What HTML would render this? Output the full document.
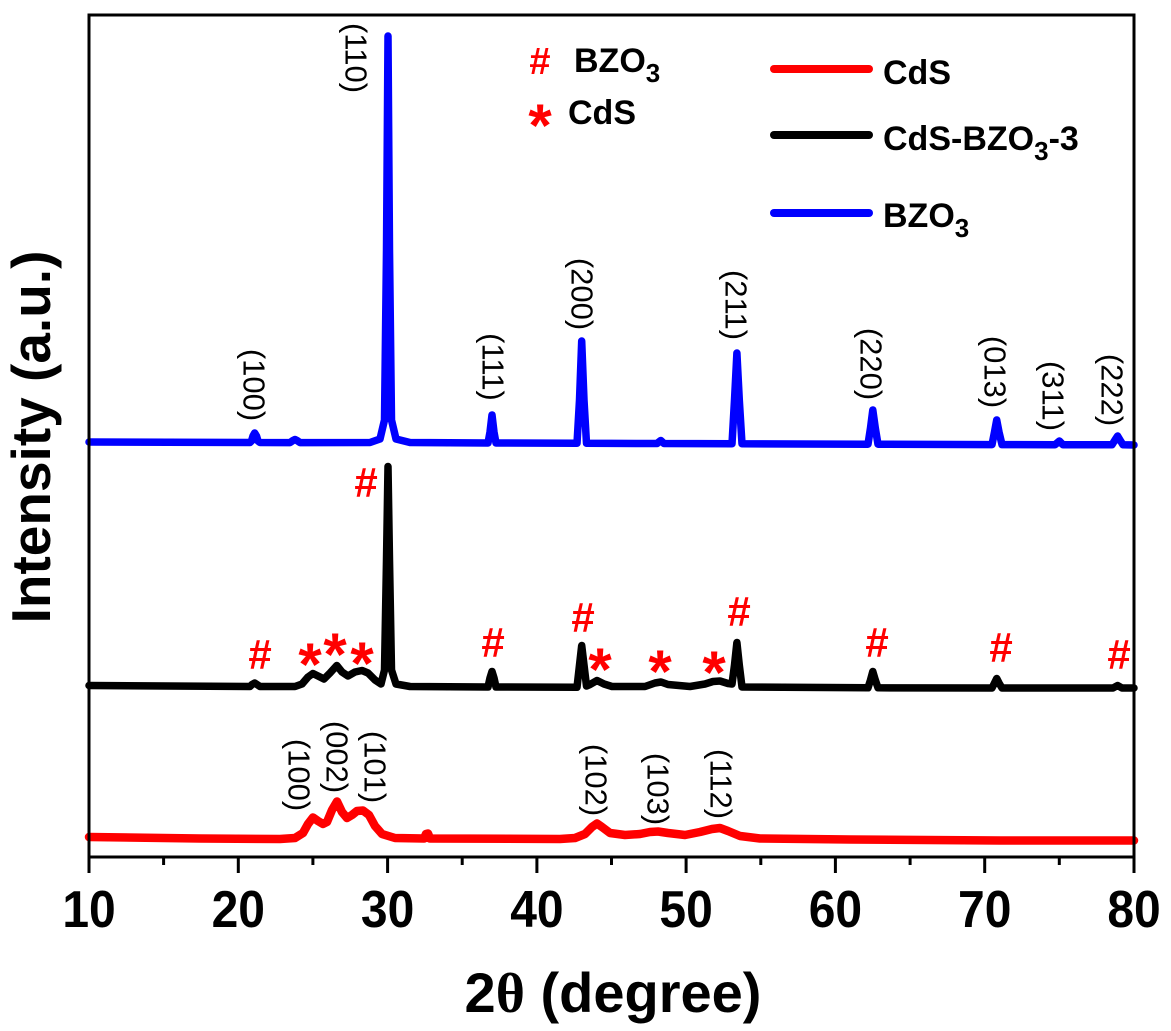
<!DOCTYPE html>
<html><head><meta charset="utf-8">
<style>html,body{margin:0;padding:0;background:#fff;}svg{display:block;}</style>
</head><body>
<svg width="1171" height="1031" viewBox="0 0 1171 1031" xmlns="http://www.w3.org/2000/svg" font-family="'Liberation Sans', Arial, sans-serif">
<rect width="1171" height="1031" fill="#fff"/>

<!-- series -->
<g fill="none" stroke-linejoin="round" stroke-linecap="round">
<path stroke="#ff0000" stroke-width="8.5" d="M89,837 L200,838.5 L280,839 L295,838 L303,833 L308,824 L313,817.5 L318,821 L323,824 L327,822 L332,810 L337,801.5 L342,812 L347,818 L352,815 L357,811 L363,810.5 L369,815 L375,826 L382,834 L395,838 L424,838.5 L426,834 L428,833.5 L430,838.5 L560,839 L575,838 L585,834 L592,827 L597,823.5 L602,827 L610,833 L625,835 L640,834 L650,832 L658,831.5 L668,833 L685,835 L700,832 L712,829 L720,828 L728,831 L740,836 L760,838.5 L850,839.5 L1000,840.5 L1134,840.5"/>
<path stroke="#000000" stroke-width="7.5" d="M89,685.5 L250,686.5 L252,684.5 L254.7,683 L257,684.5 L260,686.5 L295,686.5 L302,684 L308,677 L312.9,673.5 L318,676 L324,679 L330,673 L336.8,665.5 L342,672 L348,676 L355,672 L362,670.5 L368,673 L375,680 L381,684 L384.5,670 L386.5,560 L388,466.5 L389.5,560 L391.5,670 L396,684 L410,686.5 L488,687 L490,678 L492,671.5 L494,678 L496,687 L577,687.3 L579.5,665 L581.7,645.5 L584,665 L586.5,686 L590,684.5 L597,680.5 L604,684 L612,686.5 L645,686.5 L655,683 L661,682 L668,684.5 L690,686.5 L705,684 L713,681.5 L720,681 L728,683.5 L732,684 L734.5,665 L736.9,642.5 L739.3,665 L742,687 L868,687.8 L870.5,680 L872.8,671.5 L875.3,680 L878,687.8 L992,688 L994.5,683 L996.7,678.5 L999,683 L1002,688 L1113,688 L1117.6,685.5 L1122,688 L1134,688"/>
<path stroke="#0000ff" stroke-width="7.5" d="M89,442 L250,442.5 L251.5,441 L253,436 L254.7,433 L256.5,436 L258,441 L260,442.5 L290,442.6 L293,440.5 L295,439.5 L297,440.5 L300,442.6 L370,442.5 L380,439 L384.5,420 L386.5,250 L388,36 L389.5,250 L391.5,420 L396,439 L410,442.5 L488,443 L490,432 L492,415 L494,432 L496,443 L577,443.3 L579.5,400 L581.7,341 L584,400 L586.5,443.3 L657,443.5 L660.8,440.5 L664,443.5 L732,443.8 L734.5,400 L736.9,353 L739.3,400 L742,443.8 L868,444.2 L870.5,428 L872.8,410 L875.3,428 L878,444.2 L992,444.6 L994.5,432 L996.7,420 L999,432 L1002,444.6 L1055,444.7 L1059.4,441 L1063,444.7 L1112,444.8 L1115,440 L1117.6,436 L1120,440 L1123,444.8 L1134,445"/>
</g>

<!-- frame -->
<rect x="89" y="15" width="1045" height="842" fill="none" stroke="#000" stroke-width="3"/>
<!-- ticks -->
<g stroke="#000" stroke-width="3">
<line x1="89" y1="857" x2="89" y2="873"/>
<line x1="238.3" y1="857" x2="238.3" y2="873"/>
<line x1="387.6" y1="857" x2="387.6" y2="873"/>
<line x1="536.9" y1="857" x2="536.9" y2="873"/>
<line x1="686.1" y1="857" x2="686.1" y2="873"/>
<line x1="835.4" y1="857" x2="835.4" y2="873"/>
<line x1="984.7" y1="857" x2="984.7" y2="873"/>
<line x1="1134" y1="857" x2="1134" y2="873"/>
<line x1="163.6" y1="857" x2="163.6" y2="865"/>
<line x1="312.9" y1="857" x2="312.9" y2="865"/>
<line x1="462.2" y1="857" x2="462.2" y2="865"/>
<line x1="611.5" y1="857" x2="611.5" y2="865"/>
<line x1="760.8" y1="857" x2="760.8" y2="865"/>
<line x1="910.1" y1="857" x2="910.1" y2="865"/>
<line x1="1059.3" y1="857" x2="1059.3" y2="865"/>
</g>
<!-- tick labels -->
<g font-size="48" font-weight="bold" text-anchor="middle" fill="#000">
<text transform="translate(89,927) scale(1,1.08)">10</text>
<text transform="translate(238.3,927) scale(1,1.08)">20</text>
<text transform="translate(387.6,927) scale(1,1.08)">30</text>
<text transform="translate(536.9,927) scale(1,1.08)">40</text>
<text transform="translate(686.1,927) scale(1,1.08)">50</text>
<text transform="translate(835.4,927) scale(1,1.08)">60</text>
<text transform="translate(984.7,927) scale(1,1.08)">70</text>
<text transform="translate(1134,927) scale(1,1.08)">80</text>
</g>
<!-- axis titles -->
<text x="613" y="1012" font-size="56" font-weight="bold" text-anchor="middle">2<tspan font-family="'Liberation Serif', serif">θ</tspan> (degree)</text>
<text transform="translate(50,437) rotate(-90)" font-size="55" font-weight="bold" text-anchor="middle">Intensity (a.u.)</text>

<!-- peak labels -->
<g font-size="31" text-anchor="middle" dominant-baseline="central" fill="#000">
<text transform="translate(254,385) rotate(90)">(100)</text>
<text transform="translate(356,58) rotate(90)">(110)</text>
<text transform="translate(493,367) rotate(90)">(111)</text>
<text transform="translate(582,294) rotate(90)">(200)</text>
<text transform="translate(736,305) rotate(90)">(211)</text>
<text transform="translate(871,364) rotate(90)">(220)</text>
<text transform="translate(995,372) rotate(90)">(013)</text>
<text transform="translate(1053,396) rotate(90)">(311)</text>
<text transform="translate(1112,390) rotate(90)">(222)</text>
<text transform="translate(299,775) rotate(90)">(100)</text>
<text transform="translate(337,757) rotate(90)">(002)</text>
<text transform="translate(375,767) rotate(90)">(101)</text>
<text transform="translate(596,780) rotate(90)">(102)</text>
<text transform="translate(658,789) rotate(90)">(103)</text>
<text transform="translate(721,784) rotate(90)">(112)</text>
</g>

<!-- markers -->
<g fill="#ff0000" text-anchor="middle">
<g font-size="42" font-weight="bold">
<text x="260" y="669">#</text>
<text x="366" y="497">#</text>
<text x="493" y="657">#</text>
<text x="583" y="632">#</text>
<text x="739" y="626">#</text>
<text x="877" y="657">#</text>
<text x="1001" y="662">#</text>
<text x="1119" y="669">#</text>
<text x="540" y="74" font-size="38">#</text>
</g>
<g font-size="60" font-weight="bold">
<text x="310" y="685">*</text>
<text x="335" y="675">*</text>
<text x="362" y="684">*</text>
<text x="600" y="690">*</text>
<text x="660" y="692">*</text>
<text x="714" y="693">*</text>
<text x="540" y="146">*</text>
</g>
</g>

<!-- legend -->
<g font-size="34" font-weight="bold" fill="#000">
<text x="574" y="72">BZO<tspan font-size="26" dy="10">3</tspan></text>
<text x="568" y="124">CdS</text>
<text x="883" y="84">CdS</text>
<text x="883" y="150">CdS-BZO<tspan font-size="26" dy="10">3</tspan><tspan dy="-10">-3</tspan></text>
<text x="883" y="227">BZO<tspan font-size="26" dy="10">3</tspan></text>
</g>
<g stroke-width="8" stroke-linecap="round">
<line x1="774" y1="69" x2="869" y2="69" stroke="#ff0000"/>
<line x1="774" y1="135" x2="869" y2="135" stroke="#000"/>
<line x1="774" y1="213" x2="869" y2="213" stroke="#0000ff"/>
</g>
</svg>
</body></html>
